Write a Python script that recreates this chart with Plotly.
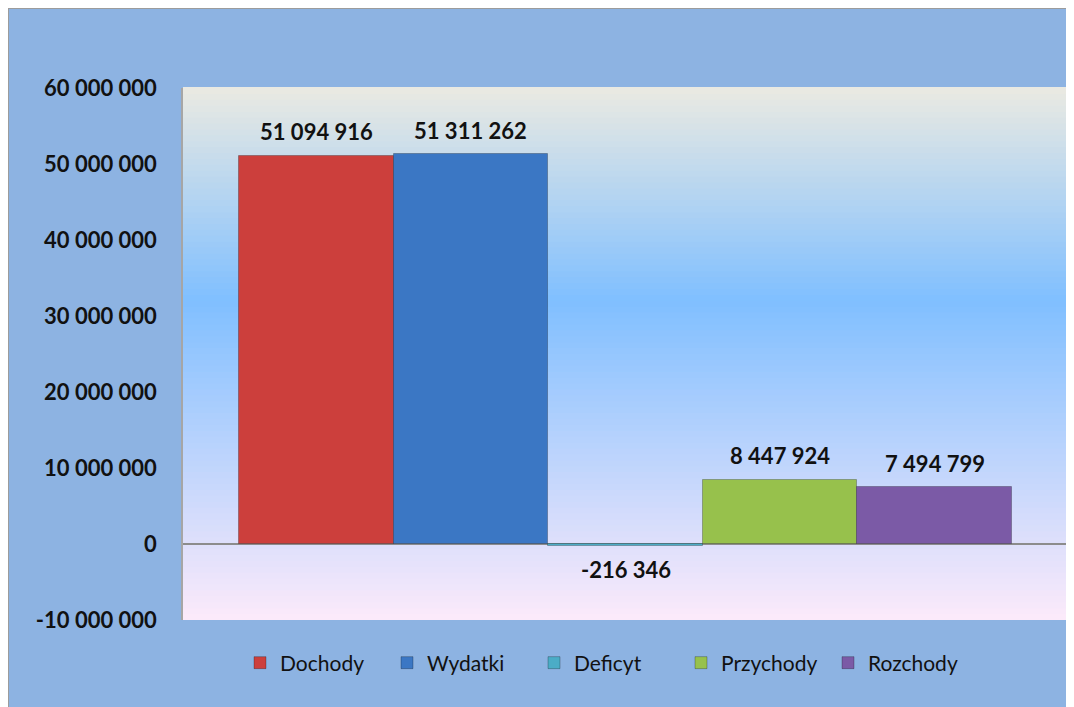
import plotly.graph_objects as go

# budget figures (PLN)
series = ["Dochody", "Wydatki", "Deficyt", "Przychody", "Rozchody"]
values = [51094916, 51311262, -216346, 8447924, 7494799]
colors = ["#CC3F3C", "#3B77C4", "#4BACC6", "#97C14C", "#7B5AA6"]
tick_vals = [-10000000, 0, 10000000, 20000000, 30000000, 40000000, 50000000, 60000000]
tick_text = ["-10 000 000", "0", "10 000 000", "20 000 000", "30 000 000",
             "40 000 000", "50 000 000", "60 000 000"]

# page body adds an 8px margin, so the figure is 8px smaller than the window
W, H = 1066, 699
L, T = 175, 80
PW, PH = 887, 532
R, B = W - L - PW, H - T - PH


def px(x):
    return (x - L) / PW


def py(y):
    return (T + PH - y) / PH


def mix(c0, c1, t):
    return "rgb(%d,%d,%d)" % tuple(round(a + (b - a) * t) for a, b in zip(c0, c1))


fig = go.Figure()

for name, v, c in zip(series, values, colors):
    fig.add_trace(go.Bar(
        x=[name], y=[v], name=name, width=1,
        marker=dict(color=c, line=dict(color="rgba(0,0,0,0.25)", width=1)),
        hoverinfo="name+y",
    ))
    fig.add_annotation(
        x=name, y=v, text=f"{v:,}".replace(",", " "), showarrow=False,
        yshift=24 if v >= 0 else -24,
        font=dict(family="Lato", size=22, color="#111111", weight="bold"),
    )

# frame border on the top and left edges
shapes = [dict(type="rect", xref="paper", yref="paper",
               x0=px(0), x1=px(W + 10), y0=py(0), y1=py(H + 10),
               fillcolor="#8DB3E2", line=dict(color="#9C9C9C", width=2), layer="below")]

# plot-area gradient (pink bottom -> sky blue -> pale grey top)
bottom, mid, top = (252, 234, 250), (128, 191, 255), (234, 234, 226)
n = 90
for i in range(n):
    t = (i + 0.5) / n
    col = mix(bottom, mid, t / 0.6) if t < 0.6 else mix(mid, top, (t - 0.6) / 0.4)
    shapes.append(dict(type="rect", xref="paper", yref="paper",
                       x0=0, x1=1, y0=i / n, y1=(i + 1) / n + 0.002,
                       fillcolor=col, line=dict(width=0), layer="below"))

fig.update_layout(
    width=W, height=H,
    margin=dict(l=L, r=R, t=T, b=B),
    paper_bgcolor="#8DB3E2",
    plot_bgcolor="rgba(0,0,0,0)",
    barmode="overlay", bargap=0,
    shapes=shapes,
    showlegend=True,
    legend=dict(orientation="h", x=px(232), xanchor="left",
                y=py(655), yanchor="middle", bgcolor="rgba(0,0,0,0)",
                font=dict(family="Lato", size=21, color="#111111"),
                itemwidth=30, entrywidth=102),
    xaxis=dict(range=[-0.862, 4.875], showticklabels=False, showgrid=False,
               showline=False, zeroline=False, fixedrange=True),
    yaxis=dict(range=[-10000000, 60000000], tickvals=tick_vals, ticktext=tick_text,
               showgrid=False, zeroline=True, zerolinecolor="#8C8C8C", zerolinewidth=1.5,
               showline=True, linecolor="#A6A6A6", linewidth=1.5,
               ticks="", ticklabelstandoff=20,
               tickfont=dict(family="Lato", size=22, color="#111111", weight="bold")),
)

fig.write_html("out.html")
